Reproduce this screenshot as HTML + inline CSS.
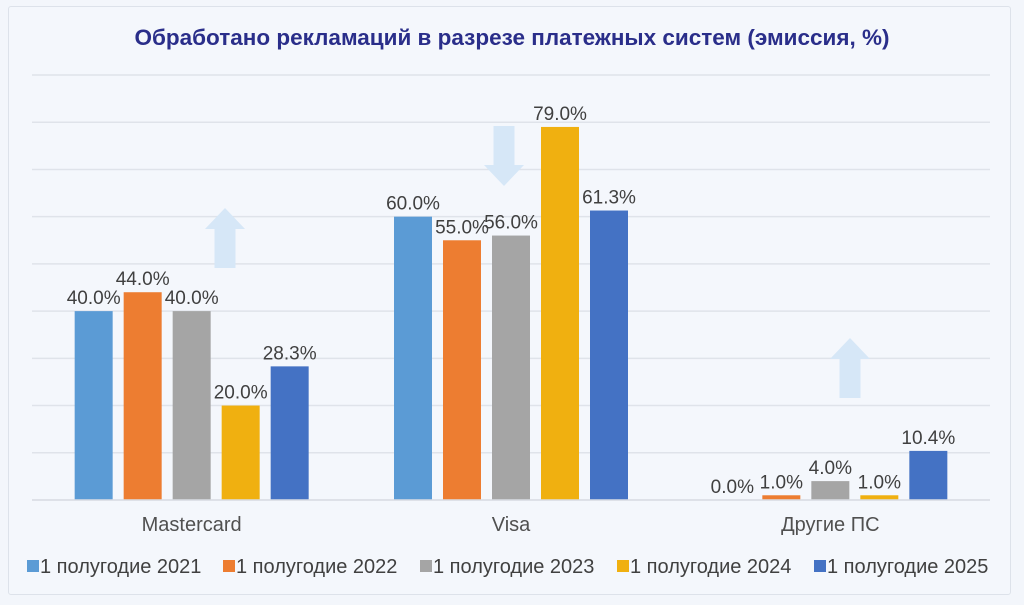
<!DOCTYPE html>
<html><head><meta charset="utf-8">
<style>
html,body{margin:0;padding:0;background:#f3f6fb;}
body{width:1024px;height:605px;overflow:hidden;position:relative;font-family:"Liberation Sans","DejaVu Sans",sans-serif;}
#card{position:absolute;left:8px;top:6px;width:1003px;height:589px;border:1px solid #dde2ea;border-radius:3px;background:#f4f7fc;box-sizing:border-box;}
svg{position:absolute;left:0;top:0;}
</style></head>
<body>
<div id="card"></div>
<svg id="chart" width="1024" height="605">
<text x="512" y="45" text-anchor="middle" font-size="22.5" font-weight="bold" fill="#2a2e8a">Обработано рекламаций в разрезе платежных систем (эмиссия, %)</text>
</svg>
<script>
const categories=["Mastercard","Visa","Другие ПС"];
const seriesNames=["1 полугодие 2021","1 полугодие 2022","1 полугодие 2023","1 полугодие 2024","1 полугодие 2025"];
const s2021=[40.0,60.0,0.0];
const s2022=[44.0,55.0,1.0];
const s2023=[40.0,56.0,4.0];
const s2024=[20.0,79.0,1.0];
const s2025=[28.3,61.3,10.4];
const gridTicks=[0,10,20,30,40,50,60,70,80,90];
const colors=["#5b9bd5","#ed7d31","#a5a5a5","#f0b010","#4472c4"];
const series=[s2021,s2022,s2023,s2024,s2025];
const svg=document.getElementById('chart');
const NS="http://www.w3.org/2000/svg";
const x0=32,x1=990,y0=500,yMax=90,yTop=75;
const y=v=>y0-(v/yMax)*(y0-yTop);
const groupW=(x1-x0)/categories.length;
const barW=38,step=49;
const bx=(ci,si)=>x0+groupW*ci+groupW/2+(si-2)*step-barW/2;
function el(t,a){const e=document.createElementNS(NS,t);for(const k in a)e.setAttribute(k,a[k]);svg.appendChild(e);return e;}
gridTicks.forEach(t=>{
  const g=el('line',{x1:x0,x2:x1,y1:y(t),y2:y(t),stroke:'#dfe3ea','stroke-width':1.5});
  
  
});
function arrow(cx,top,bot,up){
  const hw=20,sw=10.5,hh=21;
  let pts;
  if(up) pts=[[cx,top],[cx+hw,top+hh],[cx+sw,top+hh],[cx+sw,bot],[cx-sw,bot],[cx-sw,top+hh],[cx-hw,top+hh]];
  else pts=[[cx,bot],[cx+hw,bot-hh],[cx+sw,bot-hh],[cx+sw,top],[cx-sw,top],[cx-sw,bot-hh],[cx-hw,bot-hh]];
  const p=el('polygon',{points:pts.map(q=>q.join(',')).join(' '),fill:'#d6e7f7'});
  
  
}
arrow(225,208,268,true);
arrow(504,126,186,false);
arrow(850,338,398,true);
series.forEach((s,si)=>{
  s.forEach((v,ci)=>{
    const xx=bx(ci,si);
    if(v>0){
      const r=el('rect',{x:xx,y:y(v),width:barW,height:y0-y(v),fill:colors[si]});
      
      
    }
    const t=el('text',{x:xx+barW/2,y:y(v)-7,'text-anchor':'middle','font-size':19,fill:'#404040'});
    t.textContent=v.toFixed(1)+'%';
    
    
  });
});
el('line',{x1:x0,x2:x1,y1:y0,y2:y0,stroke:'#d9dde4','stroke-width':1.5});
categories.forEach((c,ci)=>{
  const t=el('text',{x:x0+groupW*ci+groupW/2,y:531,'text-anchor':'middle','font-size':20,fill:'#505050'});
  t.textContent=c;
  
  
});
const lx=[27,223,420,617,814];
seriesNames.forEach((n,i)=>{
  const r=el('rect',{x:lx[i],y:560,width:12,height:12,fill:colors[i]});
  
  
  const t=el('text',{x:lx[i]+13,y:573,'font-size':20,fill:'#404040'});
  t.textContent=n;
  
  
});
</script>
</body></html>
